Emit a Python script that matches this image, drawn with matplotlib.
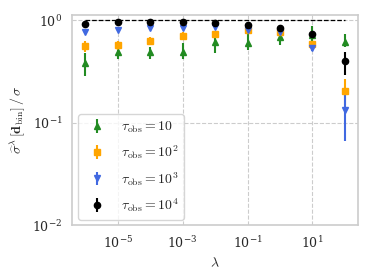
import numpy as np
import matplotlib
matplotlib.use("Agg")
import matplotlib.pyplot as plt
import seaborn as sns

sns.set_style("whitegrid", {"grid.linestyle": "--"})
plt.rcParams["font.family"] = "serif"
plt.rcParams["mathtext.fontset"] = "cm"

lam = [1e-6, 1e-5, 1e-4, 1e-3, 1e-2, 1e-1, 1e0, 1e1, 1e2]

# tau_obs = 10
g_mid = [0.378, 0.485, 0.49, 0.49, 0.61, 0.60, 0.69, 0.72, 0.615]
g_lo = [0.285, 0.415, 0.415, 0.415, 0.48, 0.51, 0.57, 0.60, 0.55]
g_hi = [0.477, 0.53, 0.55, 0.60, 0.71, 0.77, 0.77, 0.88, 0.73]

# tau_obs = 10^2
o_mid = [0.558, 0.57, 0.63, 0.70, 0.73, 0.80, 0.77, 0.58, 0.205]
o_lo = [0.49, 0.51, 0.57, 0.64, 0.68, 0.76, 0.73, 0.54, 0.15]
o_hi = [0.63, 0.62, 0.69, 0.76, 0.78, 0.84, 0.81, 0.62, 0.265]

# tau_obs = 10^3
b_mid = [0.77, 0.80, 0.83, 0.83, 0.85, 0.81, 0.77, 0.53, 0.133]
b_lo = [0.75, 0.78, 0.81, 0.81, 0.83, 0.79, 0.75, 0.50, 0.066]
b_hi = [0.79, 0.82, 0.85, 0.85, 0.87, 0.83, 0.79, 0.56, 0.20]

# tau_obs = 10^4
k_mid = [0.914, 0.95, 0.956, 0.956, 0.94, 0.90, 0.83, 0.73, 0.40]
k_lo = [0.90, 0.94, 0.945, 0.945, 0.93, 0.89, 0.81, 0.70, 0.29]
k_hi = [0.93, 0.96, 0.965, 0.965, 0.95, 0.91, 0.85, 0.76, 0.49]

series = [
    (g_mid, g_lo, g_hi, "forestgreen", "^", r"$\tau_{\rm obs} = 10$"),
    (o_mid, o_lo, o_hi, "orange", "s", r"$\tau_{\rm obs} = 10^2$"),
    (b_mid, b_lo, b_hi, "royalblue", "v", r"$\tau_{\rm obs} = 10^3$"),
    (k_mid, k_lo, k_hi, "black", "o", r"$\tau_{\rm obs} = 10^4$"),
]

fig = plt.figure(figsize=(3.74, 2.8), dpi=100)
ax = fig.add_axes([0.193, 0.196, 0.764, 0.75])

for mid, lo, hi, col, mk, lab in series:
    mid = np.array(mid)
    yerr = [mid - np.array(lo), np.array(hi) - mid]
    ax.errorbar(lam, mid, yerr=yerr, fmt=mk, color=col, ms=4.5,
                elinewidth=1.5, capsize=0, label=lab)

ax.hlines(1.0, lam[0], lam[-1], colors="black", linestyles="--", linewidth=0.9)

ax.set_xscale("log")
ax.set_yscale("log")
ax.set_ylim(1e-2, 1.12)
ax.set_xticks([1e-5, 1e-3, 1e-1, 1e1])
ax.tick_params(labelsize=9)
ax.minorticks_off()
ax.set_xlabel(r"$\lambda$", fontsize=10)
ax.set_ylabel(r"$\widehat{\sigma}^{\lambda}\,[\mathbf{d}_{\rm bin}]\,/\,\sigma$", fontsize=10)
for s in ax.spines.values():
    s.set_color("#cccccc")
    s.set_linewidth(1.2)

ax.legend(loc="lower left", fontsize=10, frameon=True, handletextpad=0.7,
          labelspacing=0.6, borderaxespad=0.4)

fig.savefig("out.png", dpi=100)
